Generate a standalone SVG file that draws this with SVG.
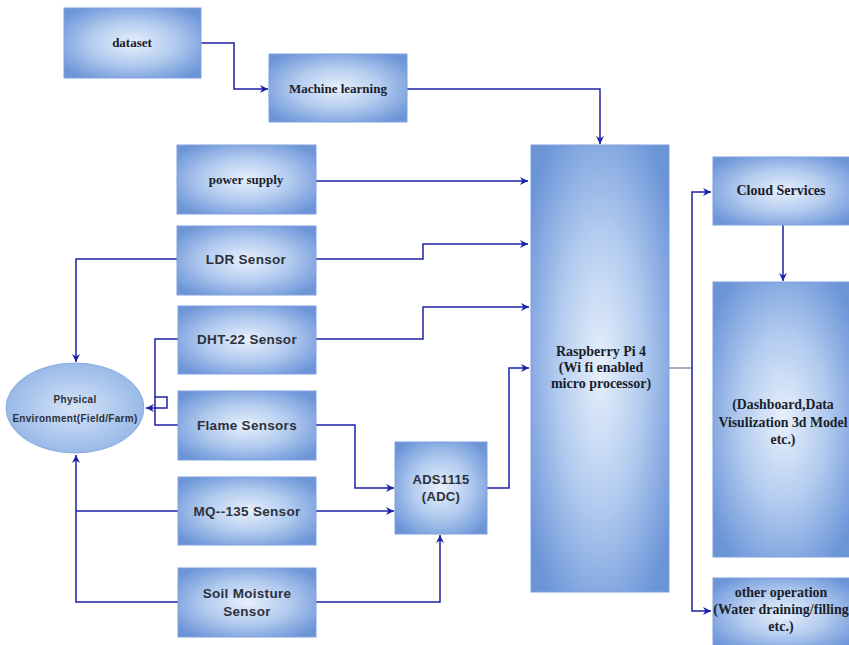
<svg xmlns="http://www.w3.org/2000/svg" width="849" height="645" viewBox="0 0 849 645">
  <defs>
    <radialGradient id="boxFill" cx="50%" cy="50%" r="62%">
      <stop offset="0%" stop-color="#e8f0fc"/>
      <stop offset="50%" stop-color="#b2cbef"/>
      <stop offset="100%" stop-color="#6c95d8"/>
    </radialGradient>
    <radialGradient id="ellFill" cx="50%" cy="50%" r="55%">
      <stop offset="0%" stop-color="#d6e4f7"/>
      <stop offset="100%" stop-color="#92b5e7"/>
    </radialGradient>
    <marker id="arrow" viewBox="0 0 10 10" refX="10" refY="5" markerWidth="8" markerHeight="8" markerUnits="userSpaceOnUse" orient="auto">
      <path d="M0,0 L10,5 L0,10 L3,5 z" fill="#1c22a8"/>
    </marker>
    <style>
      .box { fill: url(#boxFill); stroke: #7fa2dc; stroke-width: 1; }
      .serif { font-family: 'Liberation Serif', 'DejaVu Serif', serif; font-weight: bold; fill: #1a1e2c; text-anchor: middle; }
      .sans { font-family: 'Liberation Sans', 'DejaVu Sans', sans-serif; font-weight: bold; fill: #2c313c; text-anchor: middle; letter-spacing: 0.3px; }
      .wire { fill: none; stroke: #1c22a8; stroke-width: 1.5; }
      .wire-gray { fill: none; stroke: #6c7894; stroke-width: 1.2; }
    </style>
  </defs>

  <rect width="849" height="645" fill="#ffffff"/>

  <!-- connectors -->
  <g id="connectors">
    <path class="wire" d="M201,43 H234 V89 H268" marker-end="url(#arrow)"/>
    <path class="wire" d="M407,89 H600 V144" marker-end="url(#arrow)"/>
    <path class="wire" d="M316,181 H528" marker-end="url(#arrow)"/>
    <path class="wire" d="M316,259 H423 V244 H528" marker-end="url(#arrow)"/>
    <path class="wire" d="M316,339 H423 V307 H529" marker-end="url(#arrow)"/>
    <path class="wire" d="M487,488 H509 V368 H529" marker-end="url(#arrow)"/>
    <path class="wire" d="M316,425 H355 V488 H394" marker-end="url(#arrow)"/>
    <path class="wire" d="M316,511 H394" marker-end="url(#arrow)"/>
    <path class="wire" d="M316,602 H440 V535" marker-end="url(#arrow)"/>
    <!-- sensors back to the field -->
    <path class="wire" d="M177,259 H76 V362" marker-end="url(#arrow)"/>
    <path class="wire" d="M178,339 H155 V425 H178"/>
    <path class="wire" d="M155,397 H167 V408 H146" marker-end="url(#arrow)"/>
    <path class="wire" d="M178,511 H76"/>
    <path class="wire" d="M178,602 H76 V455" marker-end="url(#arrow)"/>
    <!-- processor outputs -->
    <path class="wire-gray" d="M669,368 H692"/>
    <path class="wire" d="M692,368 V192 H711" marker-end="url(#arrow)"/>
    <path class="wire" d="M692,368 V611 H711" marker-end="url(#arrow)"/>
    <path class="wire" d="M783,225 V281" marker-end="url(#arrow)"/>
  </g>

  <g id="dataset">
    <rect class="box" x="64" y="8" width="137" height="70"/>
    <text class="serif" x="132" y="47" font-size="13">dataset</text>
  </g>

  <g id="machine-learning">
    <rect class="box" x="269" y="54" width="138" height="68"/>
    <text class="serif" x="338" y="93" font-size="13">Machine learning</text>
  </g>

  <g id="power-supply">
    <rect class="box" x="177" y="145" width="139" height="69"/>
    <text class="serif" x="246" y="184" font-size="13">power supply</text>
  </g>

  <g id="ldr-sensor">
    <rect class="box" x="177" y="226" width="139" height="69"/>
    <text class="sans" x="246" y="264" font-size="13.5">LDR Sensor</text>
  </g>

  <g id="dht22-sensor">
    <rect class="box" x="178" y="306" width="138" height="68"/>
    <text class="sans" x="247" y="344" font-size="13.5">DHT-22 Sensor</text>
  </g>

  <g id="flame-sensors">
    <rect class="box" x="178" y="391" width="138" height="69"/>
    <text class="sans" x="247" y="430" font-size="13.5">Flame Sensors</text>
  </g>

  <g id="mq135-sensor">
    <rect class="box" x="178" y="477" width="138" height="68"/>
    <text class="sans" x="247" y="516" font-size="13.5">MQ--135 Sensor</text>
  </g>

  <g id="soil-moisture-sensor">
    <rect class="box" x="178" y="568" width="138" height="69"/>
    <text class="sans" x="247" y="598" font-size="13.5">Soil Moisture</text>
    <text class="sans" x="247" y="616" font-size="13.5">Sensor</text>
  </g>

  <g id="ads1115">
    <rect class="box" x="395" y="442" width="92" height="92"/>
    <text class="sans" x="441" y="484" font-size="13">ADS1115</text>
    <text class="sans" x="441" y="501" font-size="13">(ADC)</text>
  </g>

  <g id="raspberry-pi">
    <rect class="box" x="531" y="145" width="138" height="447"/>
    <text class="serif" x="601" y="356" font-size="14">Raspberry Pi 4</text>
    <text class="serif" x="601" y="372" font-size="14">(Wi fi enabled</text>
    <text class="serif" x="601" y="388" font-size="14">micro processor)</text>
  </g>

  <g id="cloud-services">
    <rect class="box" x="713" y="157" width="140" height="68"/>
    <text class="serif" x="781" y="195" font-size="14">Cloud Services</text>
  </g>

  <g id="dashboard">
    <rect class="box" x="713" y="282" width="140" height="275"/>
    <text class="serif" x="783" y="409" font-size="13.8">(Dashboard,Data</text>
    <text class="serif" x="783" y="427" font-size="13.8">Visulization 3d Model</text>
    <text class="serif" x="783" y="444" font-size="13.8">etc.)</text>
  </g>

  <g id="other-operation">
    <rect class="box" x="713" y="578" width="140" height="72"/>
    <text class="serif" x="781" y="597" font-size="14">other operation</text>
    <text class="serif" x="781" y="614" font-size="14">(Water draining/filling</text>
    <text class="serif" x="781" y="631" font-size="14">etc.)</text>
  </g>

  <g id="physical-environment">
    <ellipse cx="75" cy="408" rx="69" ry="45" fill="url(#ellFill)" stroke="#8cade0" stroke-width="1"/>
    <text class="sans" x="75" y="403" font-size="10" letter-spacing="0">Physical</text>
    <text class="sans" x="75" y="422" font-size="10" letter-spacing="0">Environment(Field/Farm)</text>
  </g>
</svg>
